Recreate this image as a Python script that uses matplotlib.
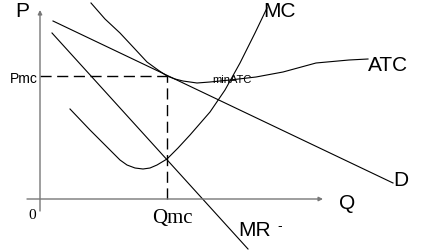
import matplotlib
matplotlib.use("Agg")
import matplotlib.pyplot as plt

# Curve data in (Q, P) units, origin at the axes corner
d_q = [13, 353]
d_p = [178, 16]

mr_q = [12, 208]
mr_p = [166, -50]

atc_q = [51, 65, 80, 94, 107, 118, 127, 135, 143, 157, 170, 190, 216, 243, 276, 309, 328]
atc_p = [196, 180, 166, 151, 137, 129, 123, 120, 118, 116, 117, 119, 122, 127, 136, 139, 140]

mc_q = [30, 50, 70, 80, 87, 95, 103, 110, 117, 127, 138, 150, 170, 185, 200, 215, 227]
mc_p = [90, 69, 49, 39, 34, 31, 30, 31, 34, 40, 51, 64, 87, 109, 136, 166, 191]

q_star = 127
p_star = 123

fig = plt.figure(figsize=(4.32, 2.52), dpi=100)
ax = fig.add_axes([0, 0, 1, 1])
ax.set_xlim(-40, 392)
ax.set_ylim(-53, 199)
ax.axis("off")

sans = "Liberation Sans"
serif = "Liberation Serif"

# axes
ax.annotate("", xy=(0, 189), xytext=(0, -12),
            arrowprops=dict(arrowstyle="-|>", color="#777777", lw=1, mutation_scale=6, shrinkA=0, shrinkB=0))
ax.annotate("", xy=(283, 0), xytext=(-13, 0),
            arrowprops=dict(arrowstyle="-|>", color="#777777", lw=1, mutation_scale=6, shrinkA=0, shrinkB=0))

# dashed guides
ax.plot([0, q_star], [p_star, p_star], color="black", lw=1, ls=(0, (8, 4)))
ax.plot([q_star, q_star], [0, p_star], color="black", lw=1, ls=(0, (8, 4)))

# curves
ax.plot(d_q, d_p, color="black", lw=0.8)
ax.plot(mr_q, mr_p, color="black", lw=0.8)
ax.plot(atc_q, atc_p, color="black", lw=0.8)
ax.plot(mc_q, mc_p, color="black", lw=0.8)

# labels
ax.text(-25, 197, "P", fontsize=15, family=sans, va="top", ha="left")
ax.text(223, 197, "MC", fontsize=15, family=sans, va="top", ha="left")
ax.text(328, 143, "ATC", fontsize=15, family=sans, va="top", ha="left")
ax.text(353, 28, "D", fontsize=15, family=sans, va="top", ha="left")
ax.text(299, 5, "Q", fontsize=15, family=sans, va="top", ha="left")
ax.text(198, -22, "MR", fontsize=15, family=sans, va="top", ha="left")
ax.text(237, -20, "-", fontsize=10, family=sans, va="top", ha="left")
ax.text(112, -10, "Qmc", fontsize=15, family=serif, va="top", ha="left")
ax.text(-12, -10, "0", fontsize=11, family=serif, va="top", ha="left")
ax.text(-30, 127, "Pmc", fontsize=10, family=sans, va="top", ha="left")
ax.text(172, 124, "minATC", fontsize=8, family=sans, va="top", ha="left")

fig.savefig("out.png", dpi=100)
